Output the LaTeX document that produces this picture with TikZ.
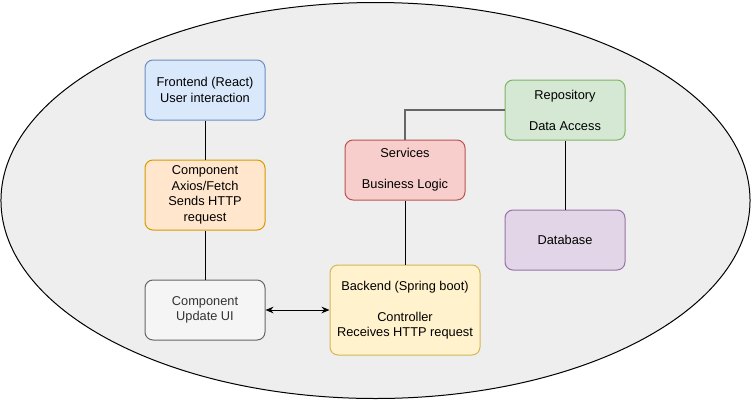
\documentclass[tikz,border=0pt]{standalone}
\usepackage{fontspec}
\setmainfont{Liberation Sans}
\usetikzlibrary{arrows.meta}
\definecolor{bgfill}{HTML}{EEEEEE}
\definecolor{bluefill}{HTML}{DAE8FC}\definecolor{bluedraw}{HTML}{6C8EBF}
\definecolor{orangefill}{HTML}{FFE6CC}\definecolor{orangedraw}{HTML}{D79B00}
\definecolor{greyfill}{HTML}{F5F5F5}\definecolor{greydraw}{HTML}{666666}\definecolor{greytext}{HTML}{333333}
\definecolor{yellowfill}{HTML}{FFF2CC}\definecolor{yellowdraw}{HTML}{D6B656}
\definecolor{redfill}{HTML}{F8CECC}\definecolor{reddraw}{HTML}{B85450}
\definecolor{greenfill}{HTML}{D5E8D4}\definecolor{greendraw}{HTML}{82B366}
\definecolor{purplefill}{HTML}{E1D5E7}\definecolor{purpledraw}{HTML}{9673A6}
\begin{document}
\begin{tikzpicture}[x=0.75pt, y=-0.75pt, line width=0.75pt, main node/.style={rectangle,rounded corners=6pt,draw,minimum width=90pt,minimum height=45pt,inner sep=2pt,align=center,font=\fontsize{9.6}{11.6}\selectfont}]%px grid
\useasboundingbox (0,0) rectangle (751,401);
\draw[fill=bgfill] (375.5,200.5) ellipse [x radius=280.9pt, y radius=148.5pt];
\begin{scope}
\node[main node,fill=bluefill,draw=bluedraw] (front) at (205,90) {Frontend (React)\\User interaction};
\node[main node,fill=orangefill,draw=orangedraw,minimum height=52.5pt] (axios) at (205,195) {Component\\Axios/Fetch\\Sends HTTP\\request};
\node[main node,fill=greyfill,draw=greydraw,text=greytext] (update) at (205,310) {Component\\Update UI};
\node[main node,fill=yellowfill,draw=yellowdraw,minimum width=112.5pt,minimum height=67.5pt] (back) at (405,310) {Backend (Spring boot)\\[11.6pt]Controller\\Receives HTTP request};
\node[main node,fill=redfill,draw=reddraw] (serv) at (405,170) {Services\\[11.6pt]Business Logic};
\node[main node,fill=greenfill,draw=greendraw] (repo) at (565,110) {Repository\\[11.6pt]Data Access};
\node[main node,fill=purplefill,draw=purpledraw] (db) at (565,240) {Database};
%\node[main node] () at (,) {};
\end{scope}
\begin{scope}
\draw (front) -- (axios);
\draw (axios) -- (update);
\draw[{Stealth[length=6pt,width=5pt]}-{Stealth[length=6pt,width=5pt]}] (update) -- (back);
\draw (serv) -- (back);
\draw[greydraw,line width=1.1pt] (serv.north) |- (repo.west);
\draw (repo) -- (db);
\end{scope}
\end{tikzpicture}
\end{document}
